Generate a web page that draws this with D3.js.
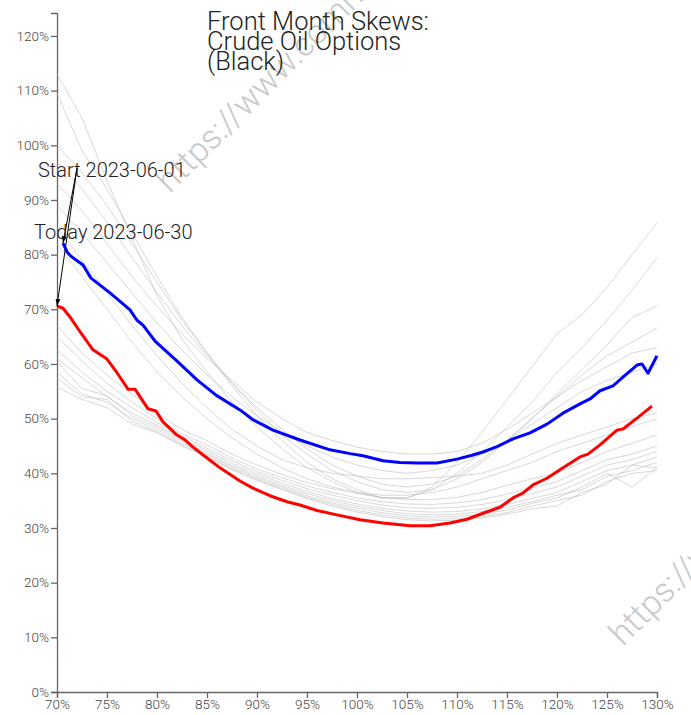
<!DOCTYPE html>
<html><head><meta charset="utf-8">
<script src="https://cdn.jsdelivr.net/npm/d3@7/dist/d3.min.js"></script>
<style>
body{margin:0;background:#fff}
text{font-family:Roboto,"Noto Sans",sans-serif}
</style>
</head><body>
<svg id="chart" width="691" height="715"></svg>
<script>
// ---- data ----
const titleLines = ["Front Month Skews:", "Crude Oil Options", "(Black)"];
const startLabel = "Start 2023-06-01";
const todayLabel = "Today 2023-06-30";
const watermarkText = "https://www.commodity.com";
const yTicks = [0,10,20,30,40,50,60,70,80,90,100,110,120];
const xTicks = [70,75,80,85,90,95,100,105,110,115,120,125,130];

// moneyness grid for the intermediate days
const moneyness = [70,72.5,75,77.5,80,82.5,85,87.5,90,92.5,95,97.5,100,102.5,105,107.5,110,112.5,115,117.5,120,122.5,125,127.5,130];

// intermediate days with steep smiles
const upperDays = [
  [113,105,93.5,83,72.5,64.5,58.5,53,48.5,44.5,41,38.5,36.5,35.5,35.5,37.5,42,47.5,53.5,59.5,65.5,69,74,80,85.8],
  [109.5,99,92,84,76,68.5,62,56,50.5,46,42,39,37,35.5,35.5,37,40,44,48.5,53,58.5,63,68,73.5,79.4],
  [100,95,89,82,75,68,62,56.5,51.5,47,43.5,40.5,38.5,37,36.5,37,39,42,46,50,54.5,59,63.5,68.5,70.6],
  [97,92,86,79.5,73,67,61.5,56.5,52,48,44.5,41.5,39.5,38,37.5,38,39.5,42.5,46,50,54,58,61.5,64,66.6],
  [93,88,82,76,70.5,65.5,61,57,53,50,47.5,46,44.8,44,43.5,43.5,44,45.5,48,51,54,57,59.5,62,63],
  [89,84,78.5,73,67.5,62.5,58,54,50.5,47.5,45,43,41.5,40.5,40,40.5,41.5,43.5,46,49,52,55,57,58.5,60],
  [85,79,73,67,61.5,56.5,52,48,45,42.5,41,40,39.5,39,39,39.2,39.5,40,41.5,43.5,45.5,47,48.5,50,51],
  [82,76,70,64,58.5,54,50,46.5,43.5,41,39,37.5,36.5,36,36,36.5,37.5,39,40.5,42,44,45.5,47,48.5,50]
];
// intermediate days with flatter smiles
const lowerDays = [
  [67,62,58,54.5,51,48,46,43.5,41.5,39.8,38.3,37.2,36.3,35.6,35.2,35.2,35.6,36.5,37.8,39,40,42,44,45.5,47],
  [65,60.5,56.5,53,50,47.2,45.2,42.8,40.8,39.2,37.7,36.5,35.5,34.8,34.4,34.3,34.6,35.2,36.2,37.3,38.5,40.5,42.5,43.5,45],
  [62.6,58.5,55,52,49.3,46.8,44.6,42.3,40.3,38.7,37.2,36,35,34.2,33.7,33.6,33.8,34.3,35.2,36.3,37.5,39.5,41.5,42.5,44],
  [61,57.5,54,51,48.8,46.3,44.2,41.8,39.9,38.2,36.7,35.4,34.4,33.6,33.1,32.9,33,33.5,34.3,35.4,36.5,38.5,40.5,41.5,43],
  [60.4,55.5,54.2,50.5,48.4,45.9,43.8,41.4,39.5,37.8,36.3,35,34,33.2,32.6,32.4,32.5,33,33.8,34.8,36,37,39.5,40.5,42],
  [58.5,54.5,53,50,48,45.5,43.5,41.1,39.2,37.5,35.9,34.6,33.6,32.8,32.2,32,32.1,32.5,33.3,34.5,35.5,37.5,40,37.5,41],
  [57.4,54,53.5,49.5,47.6,45.2,43.2,40.8,38.9,37.2,35.6,34.3,33.2,32.4,31.8,31.6,31.7,32.1,32.8,34,35,36,38.5,40,40.5],
  [55.8,53.5,52,49,47.4,45,43,40.6,38.7,37,35.4,34,32.9,32.1,31.5,31.3,31.4,31.8,32.5,33.5,34,36.5,38,41.5,41]
];

// start day (2023-06-01)
const startX = [70.6,71.0,71.4,72.6,73.4,75.3,77.3,78.0,78.6,79.8,81.9,84.0,85.9,88.3,89.6,91.6,94.3,97.3,99.3,100.6,102.6,104.3,106.0,108.0,110.0,111.5,112.6,114.0,115.6,117.3,119.0,120.6,122.3,123.3,124.3,125.6,126.6,128.0,128.5,129.1,130.0];
const startY = [82.1,80.5,79.7,78.1,75.7,73.0,69.9,68.0,67.1,64.2,60.7,57.1,54.3,51.6,49.8,47.9,46.1,44.3,43.6,43.2,42.3,42.0,41.9,41.9,42.6,43.3,43.9,44.9,46.3,47.4,49.0,51.0,52.7,53.6,55.1,56.0,57.6,59.8,60.0,58.3,61.5];

// today (2023-06-30)
const todayX = [70.0,70.6,71.3,72.3,73.6,75.0,76.0,77.1,77.8,79.1,79.9,80.6,82.0,82.8,83.6,85.0,86.3,88.3,89.6,91.3,93.0,94.3,96.0,98.0,100.3,102.6,105.3,107.3,109.3,111.0,112.6,114.3,115.6,116.6,117.6,119.0,120.6,122.3,123.1,124.3,126.0,126.6,128.0,129.5];
const todayY = [70.6,70.2,68.6,65.9,62.6,60.9,58.4,55.4,55.4,51.8,51.4,49.4,47.0,46.1,44.8,42.8,41.0,38.6,37.3,35.9,34.8,34.2,33.2,32.4,31.5,30.9,30.4,30.4,30.9,31.6,32.7,33.8,35.5,36.4,37.9,39.1,41.0,43.0,43.5,45.2,47.9,48.1,50.1,52.3];

// ---- chart ----
const svg = d3.select("#chart");
const x = d3.scaleLinear().domain([70,130]).range([57,657]);
const y = d3.scaleLinear().domain([0,124.2]).range([692,13]);
const line = d3.line().x(d=>x(d[0])).y(d=>y(d[1]));

// watermark
[[170,194],[623,647]].forEach(p=>{
  svg.append("text").attr("transform",`translate(${p[0]},${p[1]}) rotate(-45)`)
    .attr("font-size",34).attr("font-weight",300).attr("fill","#c8c8c8")
    .text(watermarkText);
});

// axes
const yAxis = svg.append("g").attr("transform","translate(57,0)")
  .call(d3.axisLeft(y).tickValues(yTicks).tickFormat(d=>d+"%").tickPadding(2));
const xAxis = svg.append("g").attr("transform","translate(0,692)")
  .call(d3.axisBottom(x).tickValues(xTicks).tickFormat(d=>d+"%").tickPadding(1));
[yAxis,xAxis].forEach(g=>{
  g.selectAll("path,line").attr("stroke","#666").attr("stroke-width",1.3);
  g.selectAll("text").attr("font-size",13.5).attr("font-weight",300).attr("fill","#444")
    .attr("font-family","Roboto,sans-serif");
});

// gray intermediate days
const grayG = svg.append("g");
upperDays.concat(lowerDays).forEach(vals=>{
  grayG.append("path").datum(moneyness.map((m,i)=>[m,vals[i]]))
    .attr("d",line).attr("fill","none").attr("stroke","#b8b8b8")
    .attr("stroke-opacity",0.55).attr("stroke-width",1);
});

// today (red) and start (blue)
svg.append("path").datum(todayX.map((m,i)=>[m,todayY[i]]))
  .attr("d",line).attr("fill","none").attr("stroke","#ff0000").attr("stroke-width",3)
  .attr("stroke-linejoin","round");
svg.append("path").datum(startX.map((m,i)=>[m,startY[i]]))
  .attr("d",line).attr("fill","none").attr("stroke","#0000ff").attr("stroke-width",3)
  .attr("stroke-linejoin","round");

// arrow marker
svg.append("defs").append("marker").attr("id","arr")
  .attr("viewBox","0 0 10 10").attr("refX",10).attr("refY",5)
  .attr("markerWidth",7).attr("markerHeight",7).attr("orient","auto")
  .append("path").attr("d","M0,1.5 L10,5 L0,8.5 z").attr("fill","#000");

const origin = [77,168];
[[startX[0],startY[0]],[todayX[0],todayY[0]]].forEach(pt=>{
  svg.append("line").attr("x1",origin[0]).attr("y1",origin[1])
    .attr("x2",x(pt[0])).attr("y2",y(pt[1]))
    .attr("stroke","#000").attr("stroke-width",1).attr("marker-end","url(#arr)");
});

// annotation labels
svg.append("text").attr("x",38).attr("y",177).attr("font-size",20).attr("font-weight",300)
  .attr("fill","#222").text(startLabel);
svg.append("text").attr("x",34).attr("y",239).attr("font-size",20).attr("font-weight",300)
  .attr("fill","#222").text(todayLabel);

// title
const t = svg.append("text").attr("font-size",25.5).attr("font-weight",300).attr("fill","#222");
titleLines.forEach((s,i)=>{
  t.append("tspan").attr("x",207).attr("y",30+i*20).text(s);
});
</script>
</body></html>
